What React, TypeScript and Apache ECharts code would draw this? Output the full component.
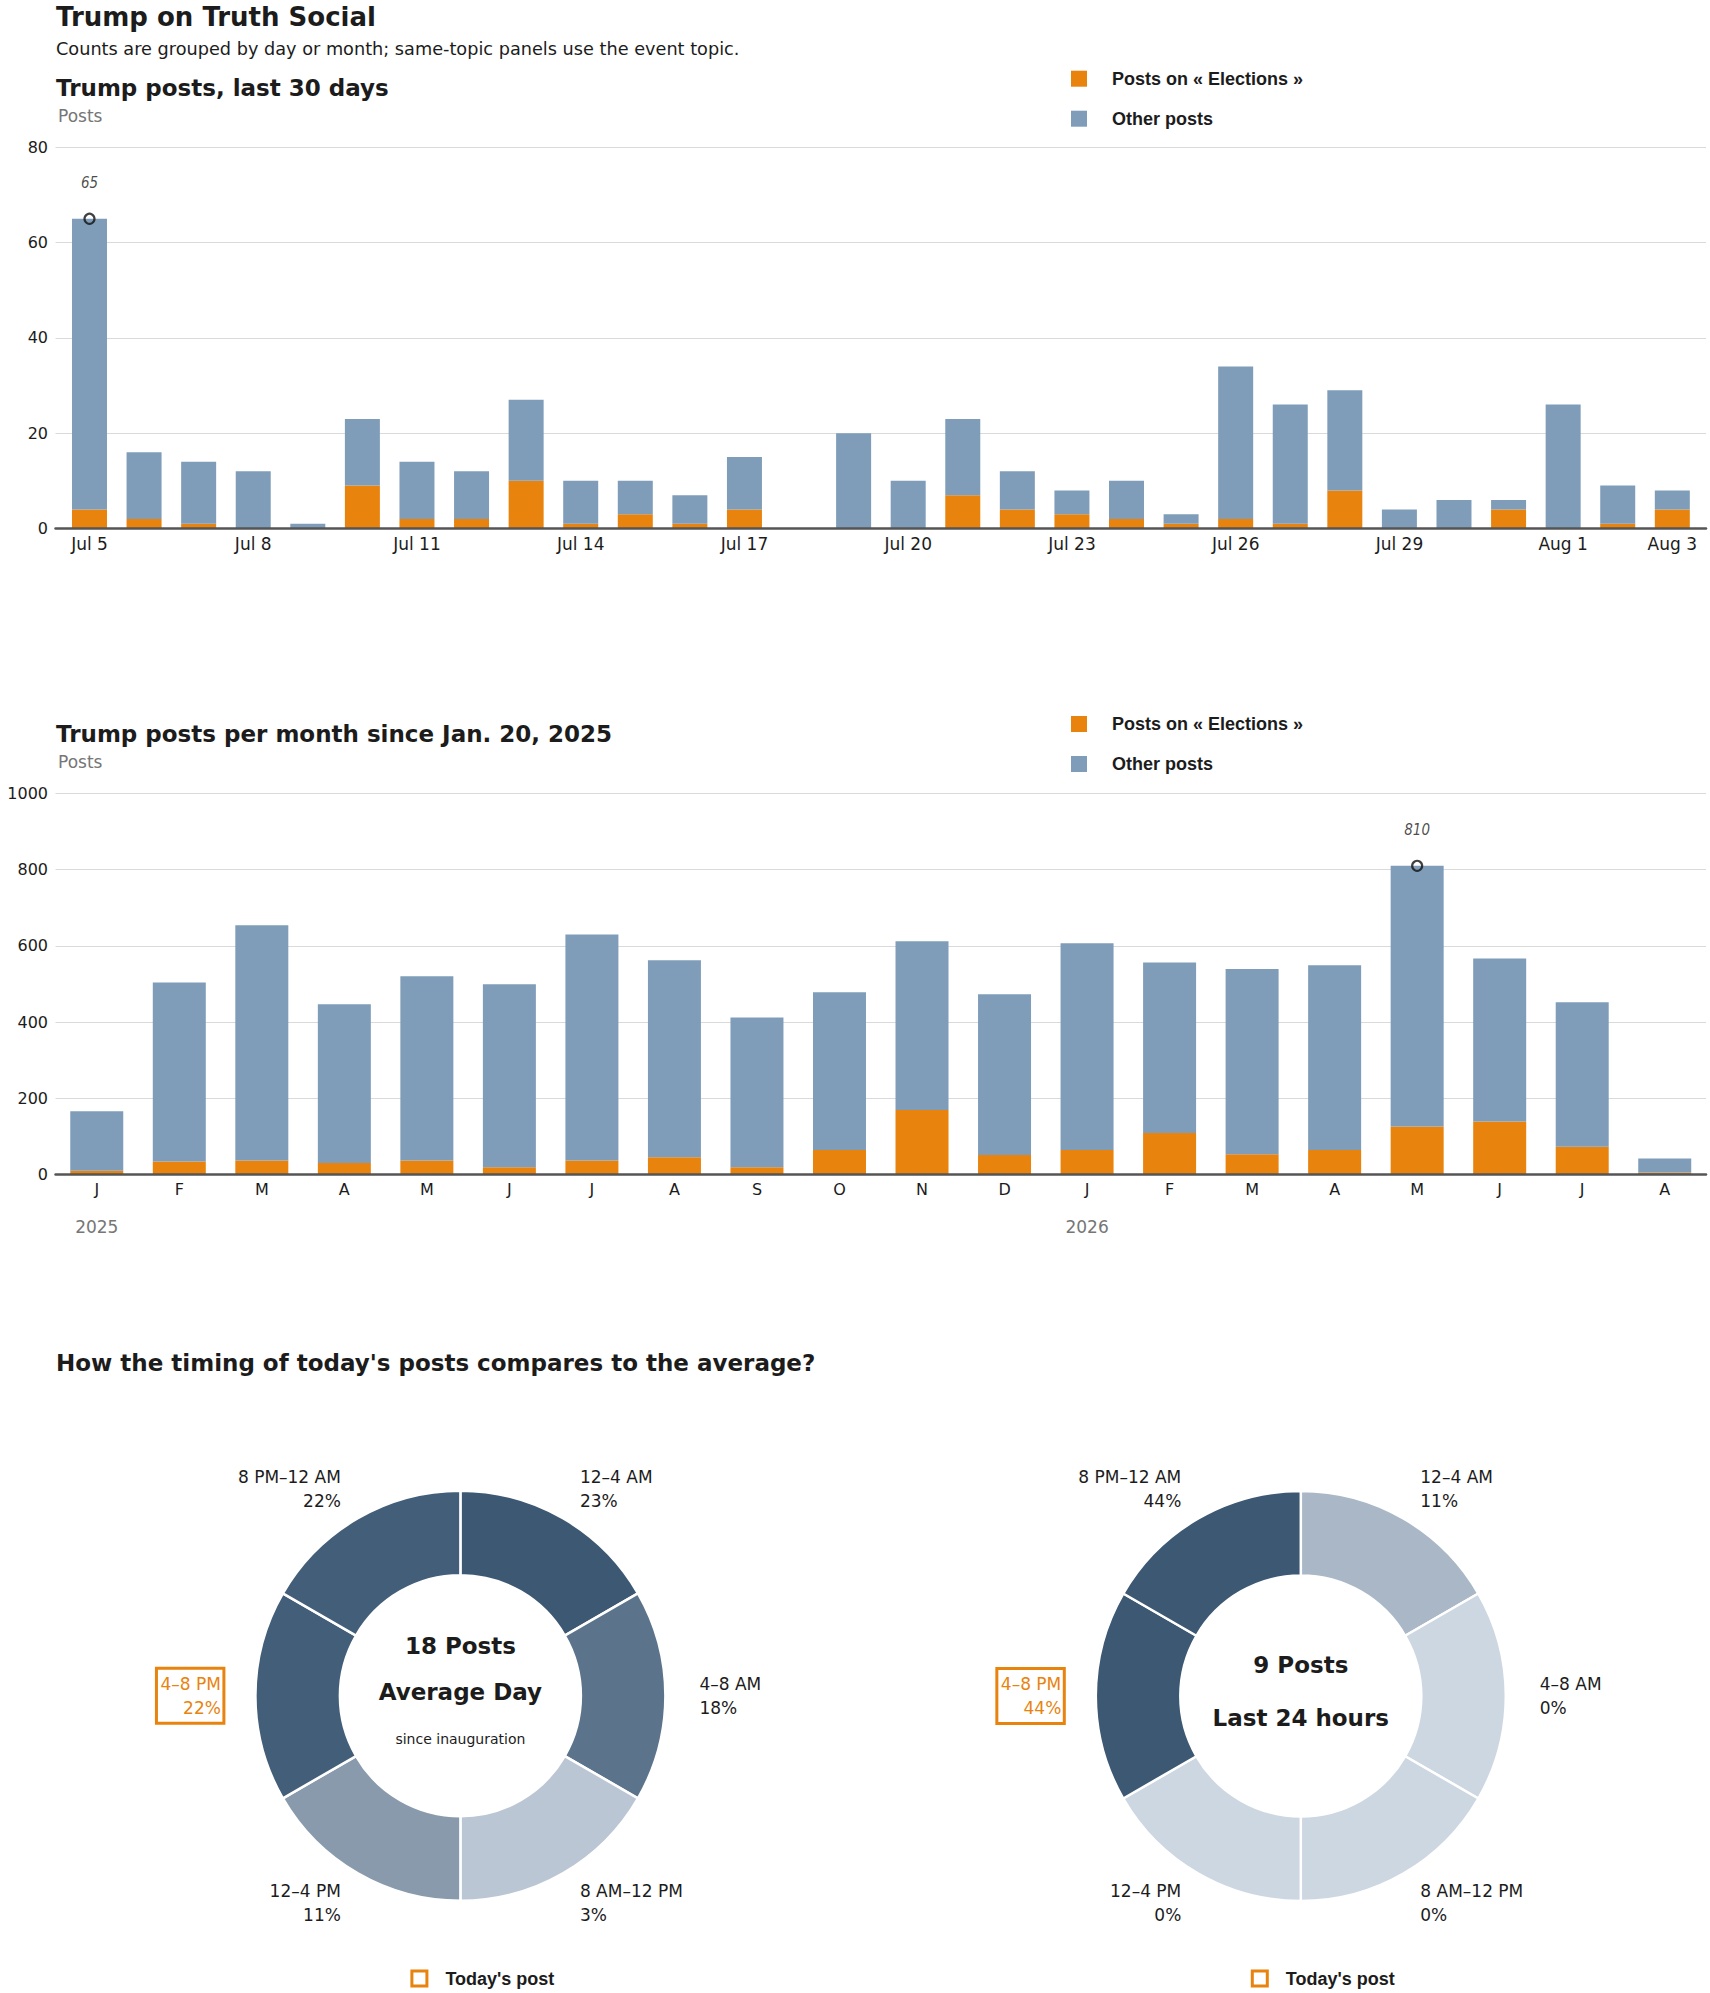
import React, { useEffect, useRef } from 'react';
import * as echarts from 'echarts';

// ---------- data ----------
const days = ['Jul 5','Jul 6','Jul 7','Jul 8','Jul 9','Jul 10','Jul 11','Jul 12','Jul 13','Jul 14','Jul 15','Jul 16','Jul 17','Jul 18','Jul 19','Jul 20','Jul 21','Jul 22','Jul 23','Jul 24','Jul 25','Jul 26','Jul 27','Jul 28','Jul 29','Jul 30','Jul 31','Aug 1','Aug 2','Aug 3'];
const dayTicks = ['Jul 5','Jul 8','Jul 11','Jul 14','Jul 17','Jul 20','Jul 23','Jul 26','Jul 29','Aug 1','Aug 3'];
const dailyElections = [4,2,1,0,0,9,2,2,10,1,3,1,4,0,0,0,7,4,3,2,1,2,1,8,0,0,4,0,1,4];
const dailyOther = [61,14,13,12,1,14,12,10,17,9,7,6,11,0,20,10,16,8,5,8,2,32,25,21,4,6,2,26,8,4];

const months = ['2025-01','2025-02','2025-03','2025-04','2025-05','2025-06','2025-07','2025-08','2025-09','2025-10','2025-11','2025-12','2026-01','2026-02','2026-03','2026-04','2026-05','2026-06','2026-07','2026-08'];
const monthInitials = ['J','F','M','A','M','J','J','A','S','O','N','D'];
const monthlyElections = [10,34,37,30,37,19,37,45,19,64,169,51,64,109,53,64,126,139,73,5];
const monthlyOther = [156,470,617,417,483,480,593,517,393,414,443,422,543,447,486,485,684,428,379,37];

const slots = ['12–4 AM','4–8 AM','8 AM–12 PM','12–4 PM','4–8 PM','8 PM–12 AM'];
const slotHours = [4,4,4,4,4,4];
const avgShares = [23,18,3,11,22,22];
const todayShares = [11,0,0,0,44,44];
const todaySlot = '4–8 PM';
const avgPosts = 18;
const todayPosts = 9;

const seriesNames = ['Posts on « Elections »', 'Other posts'];

// ---------- style / layout ----------
const ORANGE = '#E8830E';
const BLUE = '#7F9DB9';
const INK = '#1c1c1c';
const GREY = '#767676';
const SANS = "'DejaVu Sans', sans-serif";
const LEG = "'Liberation Sans', Arial, sans-serif";
const LIGHT = [205, 215, 225];
const DARK = [61, 88, 115];
const shade = (t: number) => `rgb(${LIGHT.map((c, k) => Math.round(c + (DARK[k] - c) * t)).join(',')})`;

// frame of the daily panel (gridlines / baseline) and the inset band area for the bars
const G1 = { left: 55.5, top: 147.3, width: 1650.5, height: 381.2 };
const G1B = { left: 62.2, top: 147.3, width: 1637.4, height: 381.2 };
const G2 = { left: 55.5, top: 793.4, width: 1650.5, height: 381.1 };
const PIE_L: [number, number] = [460.4, 1695.8];
const PIE_R: [number, number] = [1300.8, 1696];

const txt = (text: string, x: number, y: number, size: number, o: any = {}) => ({
  type: 'text', x, y, silent: true,
  style: {
    text, fontFamily: o.family || SANS, fontSize: size, fontWeight: o.weight || 'normal',
    fontStyle: o.style || 'normal', fill: o.color || INK,
    align: o.align || 'left', textAlign: o.align || 'left',
    verticalAlign: 'middle', textVerticalAlign: 'middle',
  },
});

const legendAt = (top: number) => ({
  data: seriesNames, orient: 'vertical', left: 1071, top, padding: 0,
  itemWidth: 16, itemHeight: 16, itemGap: 22, icon: 'rect', selectedMode: false,
  textStyle: { fontFamily: LEG, fontWeight: 'bold', fontSize: 18, color: INK, padding: [0, 0, 0, 20] },
});

const argmax = (a: number[]) => a.reduce((b, v, i) => (v > a[b] ? i : b), 0);

function pieSeries(center: [number, number], shares: number[], name: string) {
  const max = Math.max(...shares);
  return {
    type: 'pie', name, center, radius: [120.5, 205], startAngle: 90, clockwise: true,
    avoidLabelOverlap: false, silent: true,
    itemStyle: { borderColor: '#fff', borderWidth: 2.5 },
    emphasis: { disabled: true },
    labelLine: { show: false, length: 34, length2: 0 },
    label: {
      show: true, position: 'outside', distanceToLabelLine: 0,
      fontFamily: SANS, fontSize: 17, lineHeight: 24.5, color: INK,
      formatter: (p: any) => `${p.name}\n${shares[p.dataIndex]}%`,
    },
    data: slots.map((s, i) => ({
      name: s, value: slotHours[i],
      itemStyle: { color: shade(shares[i] / max) },
      label: s === todaySlot
        ? { color: ORANGE, borderColor: ORANGE, borderWidth: 3, padding: [4, 3, 2, 4], distanceToLabelLine: -2.5 }
        : undefined,
    })),
  };
}

function todayLegend(cx: number) {
  return [
    { type: 'rect', silent: true, shape: { x: cx - 48.5, y: 1978.6 - 7.5, width: 15, height: 15 },
      style: { fill: '#fff', stroke: ORANGE, lineWidth: 3 } },
    txt("Today's post", cx - 15, 1978.6, 18, { family: LEG, weight: 'bold' }),
  ];
}

function buildOption() {
  const dailyTotals = dailyElections.map((v, i) => v + dailyOther[i]);
  const monthlyTotals = monthlyElections.map((v, i) => v + monthlyOther[i]);
  const dPeak = argmax(dailyTotals);
  const mPeak = argmax(monthlyTotals);

  const yAxisBase = {
    type: 'value', axisLine: { show: false }, axisTick: { show: false },
    splitLine: { lineStyle: { color: '#dadada', width: 1 } },
    axisLabel: { fontFamily: SANS, fontSize: 16, color: INK, margin: 7.5, formatter: (v: number) => String(v) },
  };
  const hiddenY = { type: 'value', show: false, splitLine: { show: false } };
  const baseline = { show: true, onZero: false, lineStyle: { color: '#555', width: 2.5 } };
  const peak = (xi: number, yi: number, x: number, y: number) => ({
    type: 'scatter', name: 'peak', xAxisIndex: xi, yAxisIndex: yi, silent: true, z: 6,
    data: [[x, y]], symbol: 'circle', symbolSize: 10,
    itemStyle: { color: 'rgba(255,255,255,0)', borderColor: '#111', borderWidth: 2.2 },
    label: { show: true, position: 'top', distance: 22, formatter: String(y),
      fontFamily: "'DejaVu Sans Condensed', 'DejaVu Sans', sans-serif", fontStyle: 'italic', fontSize: 15, color: INK },
  });

  return {
    animation: false,
    backgroundColor: '#fff',
    textStyle: { fontFamily: SANS },
    grid: [G1, G1B, G2],
    legend: [legendAt(69.7), legendAt(715)],
    xAxis: [
      // 0: frame of daily panel, only the baseline
      { type: 'value', gridIndex: 0, min: 0, max: 1, z: 4, axisLine: baseline,
        axisLabel: { show: false }, axisTick: { show: false }, splitLine: { show: false } },
      // 1: daily categories
      {
        type: 'category', gridIndex: 1, data: days,
        axisLine: { show: false }, axisTick: { show: false }, splitLine: { show: false },
        axisLabel: {
          interval: (_i: number, v: string) => dayTicks.includes(v),
          fontFamily: SANS, fontSize: 17, color: INK, margin: 7,
        },
      },
      // 2: months
      {
        type: 'category', gridIndex: 2, data: months, z: 4,
        axisTick: { show: false }, splitLine: { show: false }, axisLine: baseline,
        axisLabel: {
          interval: 0,
          formatter: (v: string) => monthInitials[parseInt(v.slice(5), 10) - 1],
          fontFamily: SANS, fontSize: 16, color: INK, margin: 7,
        },
      },
      // 3: years
      {
        type: 'category', gridIndex: 2, data: months, position: 'bottom', offset: 36,
        axisLine: { show: false }, axisTick: { show: false }, splitLine: { show: false },
        axisLabel: {
          interval: (_i: number, v: string) => v.endsWith('-01'),
          formatter: (v: string) => v.slice(0, 4),
          fontFamily: SANS, fontSize: 17, color: GREY, margin: 8,
        },
      },
    ],
    yAxis: [
      { ...yAxisBase, gridIndex: 0, min: 0, max: 80, interval: 20 },
      { ...hiddenY, gridIndex: 1, min: 0, max: 80 },
      { ...yAxisBase, gridIndex: 2, min: 0, max: 1000, interval: 200 },
    ],
    series: [
      { type: 'bar', name: seriesNames[0], xAxisIndex: 1, yAxisIndex: 1, stack: 'day', barWidth: 35, silent: true,
        itemStyle: { color: ORANGE }, data: dailyElections },
      { type: 'bar', name: seriesNames[1], xAxisIndex: 1, yAxisIndex: 1, stack: 'day', barWidth: 35, silent: true,
        itemStyle: { color: BLUE }, data: dailyOther },
      peak(1, 1, dPeak, dailyTotals[dPeak]),
      { type: 'bar', name: seriesNames[0], xAxisIndex: 2, yAxisIndex: 2, stack: 'month', barWidth: 53, silent: true,
        itemStyle: { color: ORANGE }, data: monthlyElections },
      { type: 'bar', name: seriesNames[1], xAxisIndex: 2, yAxisIndex: 2, stack: 'month', barWidth: 53, silent: true,
        itemStyle: { color: BLUE }, data: monthlyOther },
      peak(2, 2, mPeak, monthlyTotals[mPeak]),
      pieSeries(PIE_L, avgShares, 'Average day'),
      pieSeries(PIE_R, todayShares, 'Last 24 hours'),
    ],
    graphic: {
      elements: [
        txt('Trump on Truth Social', 56, 16.5, 26, { weight: 'bold' }),
        txt('Counts are grouped by day or month; same-topic panels use the event topic.', 56, 48.8, 17.7),
        txt('Trump posts, last 30 days', 56, 88, 23, { weight: 'bold' }),
        txt('Posts', 58, 116, 17, { color: GREY }),
        txt('Trump posts per month since Jan. 20, 2025', 56, 733.6, 23, { weight: 'bold' }),
        txt('Posts', 58, 761.6, 17, { color: GREY }),
        txt("How the timing of today's posts compares to the average?", 56, 1363, 23, { weight: 'bold' }),
        txt(`${avgPosts} Posts`, PIE_L[0], PIE_L[1] - 50, 23, { weight: 'bold', align: 'center' }),
        txt('Average Day', PIE_L[0], PIE_L[1] - 4, 23, { weight: 'bold', align: 'center' }),
        txt('since inauguration', PIE_L[0], PIE_L[1] + 43, 14, { align: 'center' }),
        txt(`${todayPosts} Posts`, PIE_R[0], PIE_R[1] - 31, 23, { weight: 'bold', align: 'center' }),
        txt('Last 24 hours', PIE_R[0], PIE_R[1] + 22, 23, { weight: 'bold', align: 'center' }),
        ...todayLegend(PIE_L[0]),
        ...todayLegend(PIE_R[0]),
      ],
    },
  };
}

export default function App() {
  const ref = useRef<HTMLDivElement>(null);
  useEffect(() => {
    if (!ref.current) return;
    const chart = echarts.init(ref.current, undefined, { renderer: 'svg' });
    chart.setOption(buildOption() as any);
    return () => chart.dispose();
  }, []);
  return (
    <div
      ref={ref}
      style={{ position: 'absolute', left: 0, top: 0, width: 1710, height: 1993, background: '#fff' }}
    />
  );
}
